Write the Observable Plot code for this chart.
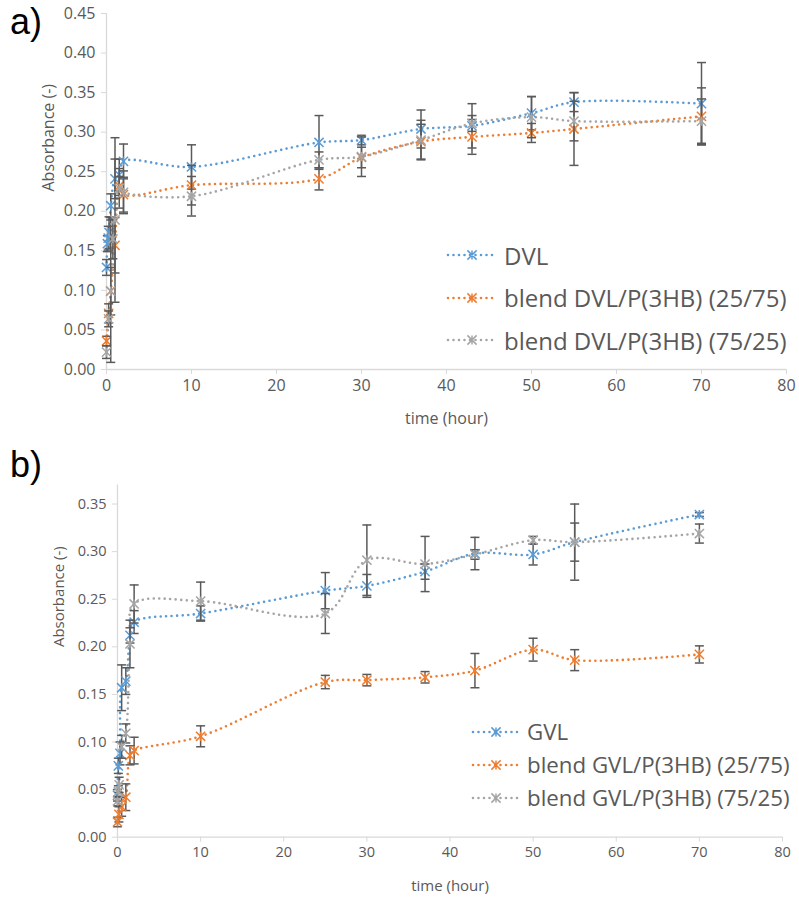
<!DOCTYPE html>
<html>
<head>
<meta charset="utf-8">
<script src="https://cdn.jsdelivr.net/npm/d3@7"></script>
<script src="https://cdn.jsdelivr.net/npm/@observablehq/plot@0.6"></script>
<style>
  body { margin: 0; background: #fff; font-family: "Open Sans", sans-serif; }
  #wrap { position: relative; width: 799px; height: 899px; overflow: hidden; background: #fff; }
  .panel { position: absolute; left: 0; }
  .tag { position: absolute; left: 10px; font-family: "Liberation Sans", sans-serif; font-size: 36px; line-height: normal; color: #000; }
  .legend { position: absolute; color: #595959; }
  .legend .row { display: flex; align-items: center; white-space: nowrap; }
  .legend svg { display: block; margin-right: 6px; }
</style>
</head>
<body>
<div id="wrap"></div>
<script>
// ---- panel a: DVL and its blends (absorbance vs time, hours) ----
const dvlT   = [0, 0.1, 0.2, 0.3, 0.5, 1, 1.5, 2, 10, 25, 30, 37, 43, 50, 55, 70];
const dvlV   = [0.129, 0.159, 0.166, 0.173, 0.207, 0.241, 0.246, 0.263, 0.256, 0.287, 0.290, 0.304, 0.308, 0.324, 0.338, 0.336];
const dvlE   = [0.010, 0.010, 0.015, 0.020, 0.015, 0.025, 0.020, 0.022, 0.028, 0.034, 0.006, 0.024, 0.028, 0.021, 0.012, 0.052];

const dvl25T = [0, 0.25, 0.5, 1, 1.5, 2, 10, 25, 30, 37, 43, 50, 55, 70];
const dvl25V = [0.036, 0.071, 0.099, 0.157, 0.232, 0.221, 0.233, 0.241, 0.268, 0.288, 0.294, 0.299, 0.304, 0.320];
const dvl25E = [0.006, 0.012, 0.030, 0.035, 0.012, 0.022, 0.025, 0.014, 0.013, 0.022, 0.022, 0.012, 0.046, 0.036];

const dvl75T = [0, 0.25, 0.5, 0.75, 1, 1.5, 2, 10, 25, 30, 37, 43, 50, 55, 70];
const dvl75V = [0.022, 0.064, 0.099, 0.165, 0.189, 0.229, 0.224, 0.219, 0.265, 0.269, 0.290, 0.311, 0.319, 0.314, 0.314];
const dvl75E = [0.008, 0.010, 0.090, 0.025, 0.104, 0.025, 0.027, 0.025, 0.010, 0.025, 0.025, 0.010, 0.026, 0.025, 0.028];

// ---- panel b: GVL and its blends ----
const gvlT   = [0, 0.1, 0.3, 0.5, 1, 1.5, 2, 10, 25, 30, 37, 43, 50, 55, 70];
const gvlV   = [0.044, 0.075, 0.088, 0.157, 0.164, 0.212, 0.226, 0.235, 0.259, 0.264, 0.279, 0.298, 0.297, 0.310, 0.339];
const gvlE   = [0.006, 0.008, 0.012, 0.024, 0.014, 0.008, 0.012, 0.008, 0.019, 0.012, 0.008, 0.017, 0.011, 0.020, 0.002];

const gvl25T = [0, 0.17, 0.5, 1, 1.5, 2, 10, 25, 30, 37, 43, 50, 55, 70];
const gvl25V = [0.016, 0.024, 0.032, 0.042, 0.086, 0.091, 0.106, 0.163, 0.165, 0.168, 0.175, 0.197, 0.186, 0.192];
const gvl25E = [0.005, 0.008, 0.010, 0.014, 0.010, 0.014, 0.011, 0.007, 0.006, 0.006, 0.018, 0.012, 0.011, 0.009];

const gvl75T = [0, 0.1, 0.2, 0.5, 1, 1.5, 2, 10, 25, 30, 37, 43, 50, 55, 70];
const gvl75V = [0.038, 0.048, 0.055, 0.095, 0.109, 0.203, 0.245, 0.248, 0.235, 0.291, 0.287, 0.297, 0.312, 0.310, 0.319];
const gvl75E = [0.005, 0.006, 0.008, 0.012, 0.010, 0.025, 0.020, 0.020, 0.021, 0.037, 0.029, 0.005, 0.004, 0.040, 0.010];

const seriesColors = ["#5B9BD5", "#ED7D31", "#A5A5A5"];
const namesA = ["DVL", "blend DVL/P(3HB) (25/75)", "blend DVL/P(3HB) (75/25)"];
const namesB = ["GVL", "blend GVL/P(3HB) (25/75)", "blend GVL/P(3HB) (75/25)"];
const xTicks = [0, 10, 20, 30, 40, 50, 60, 70, 80];
const yTicksA = [0, 0.05, 0.10, 0.15, 0.20, 0.25, 0.30, 0.35, 0.40, 0.45];
const yTicksB = [0, 0.05, 0.10, 0.15, 0.20, 0.25, 0.30, 0.35];

// star marker (X with a vertical stroke) and a flat cap for error bars
const star = {
  draw(ctx, size) {
    const r = Math.sqrt(size / Math.PI);
    ctx.moveTo(-r, -r); ctx.lineTo(r, r);
    ctx.moveTo(-r, r); ctx.lineTo(r, -r);
    ctx.moveTo(0, -r); ctx.lineTo(0, r);
  }
};
const cap = {
  draw(ctx, size) {
    const r = Math.sqrt(size / Math.PI);
    ctx.moveTo(-r, 0); ctx.lineTo(r, 0);
  }
};

function rows(t, v, e) {
  return t.map((ti, i) => ({t: ti, v: v[i], e: e[i]}));
}

function chart({data, yMax, yTicks, height, margin, font, titleFont, titleDy}) {
  const marks = [
    Plot.ruleY([0], {stroke: "#d9d9d9", strokeWidth: 1.3}),
    Plot.ruleX([0], {stroke: "#d9d9d9", strokeWidth: 1.3}),
    Plot.axisX({ticks: xTicks, tickSize: 5, tickPadding: 5, stroke: "#d9d9d9", fill: "#595959", fontSize: font, label: null}),
    Plot.axisY({ticks: yTicks, tickFormat: d3.format(".2f"), tickSize: 5, tickPadding: 6, stroke: "#d9d9d9", fill: "#595959", fontSize: font, label: null}),
    Plot.text(["time (hour)"], {frameAnchor: "bottom", lineAnchor: "middle", dy: 49, fill: "#595959", fontSize: titleFont}),
    Plot.text(["Absorbance (-)"], {frameAnchor: "left", rotate: -90, dx: -58, dy: titleDy, fill: "#595959", fontSize: titleFont})
  ];
  data.forEach((d, i) => {
    marks.push(Plot.line(d, {x: "t", y: "v", stroke: seriesColors[i], strokeWidth: 2.6,
      strokeDasharray: "0 5.5", strokeLinecap: "round", curve: "catmull-rom"}));
  });
  data.forEach((d, i) => {
    marks.push(Plot.ruleX(d, {x: "t", y1: r => r.v - r.e, y2: r => r.v + r.e, stroke: "#5a5a5a", strokeWidth: 1.5}));
    const caps = d.flatMap(r => [{t: r.t, y: r.v - r.e}, {t: r.t, y: r.v + r.e}]);
    marks.push(Plot.dot(caps, {x: "t", y: "y", symbol: cap, r: 4.5, stroke: "#5a5a5a", strokeWidth: 1.5}));
    marks.push(Plot.dot(d, {x: "t", y: "v", symbol: star, r: 4.6, stroke: seriesColors[i], strokeWidth: 1.5}));
  });
  return Plot.plot({
    width: 799,
    height,
    marginTop: margin[0], marginRight: margin[1], marginBottom: margin[2], marginLeft: margin[3],
    style: {fontFamily: "Open Sans, sans-serif", background: "transparent", overflow: "visible"},
    x: {domain: [0, 80]},
    y: {domain: [0, yMax]},
    marks
  });
}

function legend(names, font, rowH, swW) {
  const box = document.createElement("div");
  box.className = "legend";
  box.style.fontSize = font + "px";
  names.forEach((n, i) => {
    const row = document.createElement("div");
    row.className = "row";
    row.style.height = rowH + "px";
    const svg = d3.create("svg").attr("width", swW).attr("height", 14);
    svg.append("line").attr("x1", 2).attr("x2", swW - 2).attr("y1", 7).attr("y2", 7)
      .attr("stroke", seriesColors[i]).attr("stroke-width", 2.6)
      .attr("stroke-dasharray", "0 5.5").attr("stroke-linecap", "round");
    const c = swW / 2, r = 4.6;
    svg.append("path").attr("d", `M${c-r},${7-r}L${c+r},${7+r}M${c-r},${7+r}L${c+r},${7-r}M${c},${7-r}L${c},${7+r}`)
      .attr("stroke", seriesColors[i]).attr("stroke-width", 1.5).attr("fill", "none");
    row.appendChild(svg.node());
    const s = document.createElement("span");
    s.textContent = n;
    row.appendChild(s);
    box.appendChild(row);
  });
  return box;
}

const wrap = document.getElementById("wrap");

const dataA = [rows(dvlT, dvlV, dvlE), rows(dvl25T, dvl25V, dvl25E), rows(dvl75T, dvl75V, dvl75E)];
const dataB = [rows(gvlT, gvlV, gvlE), rows(gvl25T, gvl25V, gvl25E), rows(gvl75T, gvl75V, gvl75E)];

const pa = chart({data: dataA, yMax: 0.45, yTicks: yTicksA, height: 440, margin: [13, 13, 71, 106], font: 16, titleFont: 16, titleDy: 0});
pa.classList.add("panel"); pa.style.top = "0px";
wrap.appendChild(pa);

const pb = chart({data: dataB, yMax: 0.37, yTicks: yTicksB, height: 459, margin: [44.5, 17, 62.3, 117], font: 14.5, titleFont: 15, titleDy: -14});
pb.classList.add("panel"); pb.style.top = "440px";
wrap.appendChild(pb);

const la = legend(namesA, 24, 42.5, 52);
la.style.left = "446px"; la.style.top = "234px";
wrap.appendChild(la);

const lb = legend(namesB, 22.3, 33, 50);
lb.style.left = "471px"; lb.style.top = "715px";
wrap.appendChild(lb);

const ta = document.createElement("div");
ta.className = "tag"; ta.textContent = "a)"; ta.style.top = "1px";
wrap.appendChild(ta);
const tb = document.createElement("div");
tb.className = "tag"; tb.textContent = "b)"; tb.style.top = "444px";
wrap.appendChild(tb);
</script>
</body>
</html>
